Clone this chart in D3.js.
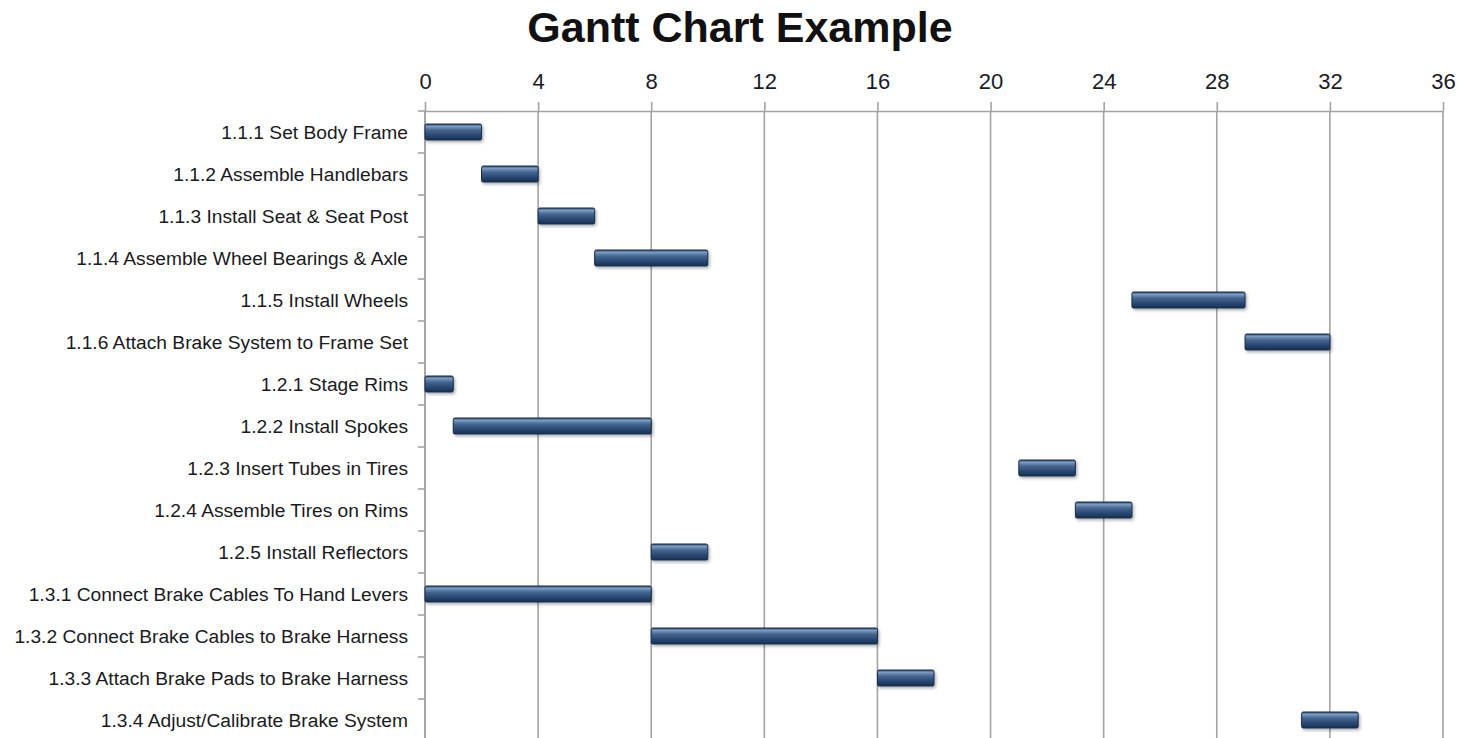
<!DOCTYPE html>
<html>
<head>
<meta charset="utf-8">
<script src="https://cdn.jsdelivr.net/npm/d3@7"></script>
<style>
  body { margin: 0; background: #fff; }
  svg { display: block; font-family: "Liberation Sans", Arial, sans-serif; }
</style>
</head>
<body>
<div id="container"></div>
<script>
var width = 1462;
var height = 738;

var tasks = [
  '1.1.1 Set Body Frame',
  '1.1.2 Assemble Handlebars',
  '1.1.3 Install Seat & Seat Post',
  '1.1.4 Assemble Wheel Bearings & Axle',
  '1.1.5 Install Wheels',
  '1.1.6 Attach Brake System to Frame Set',
  '1.2.1 Stage Rims',
  '1.2.2 Install Spokes',
  '1.2.3 Insert Tubes in Tires',
  '1.2.4 Assemble Tires on Rims',
  '1.2.5 Install Reflectors',
  '1.3.1 Connect Brake Cables To Hand Levers',
  '1.3.2 Connect Brake Cables to Brake Harness',
  '1.3.3 Attach Brake Pads to Brake Harness',
  '1.3.4 Adjust/Calibrate Brake System'
];
var starts    = [0, 2, 4, 6, 25, 29, 0, 1, 21, 23, 8, 0, 8, 16, 31];
var durations = [2, 2, 2, 4, 4, 3, 1, 7, 2, 2, 2, 8, 8, 2, 2];
var xTicks = [0, 4, 8, 12, 16, 20, 24, 28, 32, 36];

var svg = d3.select('#container')
  .append('svg')
  .attr('width', width)
  .attr('height', height);

// bevel look for the bars
var defs = svg.append('defs');
var grad = defs.append('linearGradient')
  .attr('id', 'barGrad')
  .attr('x1', 0).attr('y1', 0).attr('x2', 0).attr('y2', 1);
grad.append('stop').attr('offset', '0%').attr('stop-color', '#2f4d75');
grad.append('stop').attr('offset', '15%').attr('stop-color', '#7b9bc3');
grad.append('stop').attr('offset', '38%').attr('stop-color', '#45678f');
grad.append('stop').attr('offset', '72%').attr('stop-color', '#284670');
grad.append('stop').attr('offset', '100%').attr('stop-color', '#182f52');

var shadow = defs.append('filter').attr('id', 'shadow')
  .attr('x', '-10%').attr('y', '-30%').attr('width', '130%').attr('height', '180%');
shadow.append('feDropShadow')
  .attr('dx', 1.5).attr('dy', 2).attr('stdDeviation', 1.5)
  .attr('flood-color', '#000').attr('flood-opacity', 0.3);

var x = d3.scaleLinear()
  .domain([0, 36])
  .range([425, 1443]);

var y = d3.scaleBand()
  .domain(tasks)
  .range([111, 741])
  .paddingInner(0.62)
  .paddingOuter(0.31);

// title
svg.append('text')
  .attr('x', 740)
  .attr('y', 42)
  .attr('text-anchor', 'middle')
  .style('font-size', '43px')
  .style('font-weight', 'bold')
  .style('fill', '#111')
  .text('Gantt Chart Example');

// vertical gridlines
svg.selectAll('.grid')
  .data(xTicks)
  .enter()
  .append('line')
  .attr('class', 'grid')
  .attr('x1', function(d){ return x(d); })
  .attr('x2', function(d){ return x(d); })
  .attr('y1', 111)
  .attr('y2', height)
  .style('stroke', '#a3a3a3')
  .style('stroke-width', 1.6);

// top axis
var xAxis = svg.append('g')
  .attr('transform', 'translate(0,111)')
  .call(d3.axisTop(x).tickValues(xTicks).tickSize(9).tickSizeOuter(0).tickPadding(13));
xAxis.select('.domain').style('stroke', '#a3a3a3').style('stroke-width', 1.6);
xAxis.selectAll('.tick line').style('stroke', '#a3a3a3').style('stroke-width', 1.6);
xAxis.selectAll('.tick text')
  .style('font-family', '"Liberation Sans", Arial, sans-serif')
  .style('font-size', '22px')
  .style('fill', '#1a1a2a');

// left axis line
svg.append('line')
  .attr('x1', 425).attr('x2', 425)
  .attr('y1', 111).attr('y2', height)
  .style('stroke', '#a3a3a3')
  .style('stroke-width', 1.6);

// category separators on the left axis
var boundaries = tasks.map(function(d){ return y(d) + y.bandwidth() / 2 - y.step() / 2; });
svg.selectAll('.ytick')
  .data(boundaries)
  .enter()
  .append('line')
  .attr('class', 'ytick')
  .attr('x1', 418).attr('x2', 425)
  .attr('y1', function(d){ return d; })
  .attr('y2', function(d){ return d; })
  .style('stroke', '#a3a3a3')
  .style('stroke-width', 1.6);

// task labels
svg.selectAll('.task-label')
  .data(tasks)
  .enter()
  .append('text')
  .attr('class', 'task-label')
  .attr('x', 408)
  .attr('y', function(d){ return y(d) + y.bandwidth() / 2; })
  .attr('dy', '0.35em')
  .attr('text-anchor', 'end')
  .style('font-size', '19.2px')
  .style('fill', '#1a1a22')
  .text(function(d){ return d; });

// bars
svg.selectAll('.bar')
  .data(tasks)
  .enter()
  .append('rect')
  .attr('class', 'bar')
  .attr('x', function(d, i){ return x(starts[i]); })
  .attr('y', function(d){ return y(d); })
  .attr('width', function(d, i){ return x(starts[i] + durations[i]) - x(starts[i]); })
  .attr('height', y.bandwidth())
  .attr('rx', 1.5)
  .style('fill', 'url(#barGrad)')
  .style('stroke', '#172b4a')
  .style('stroke-width', 1)
  .attr('filter', 'url(#shadow)');
</script>
</body>
</html>
